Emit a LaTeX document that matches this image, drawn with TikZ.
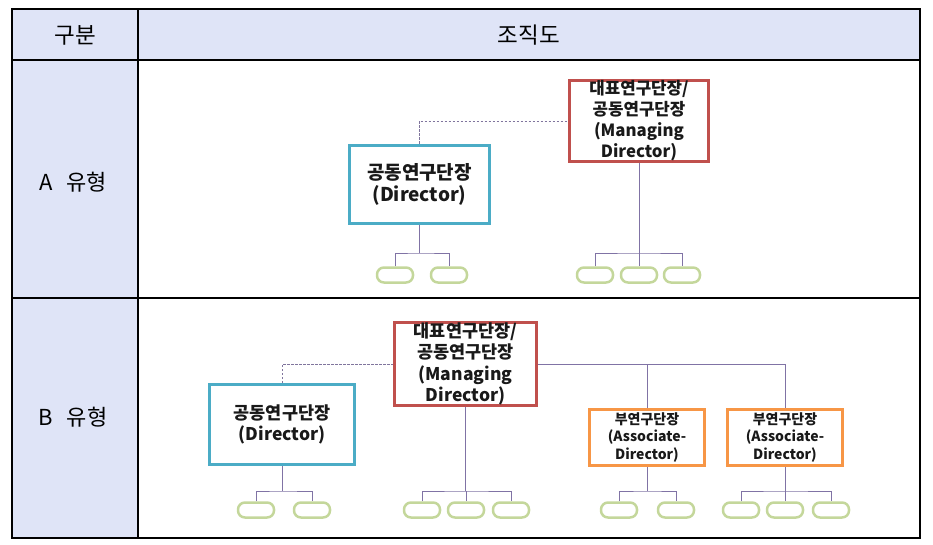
\documentclass[tikz,border=0pt]{standalone}
\usepackage{fontspec}
\setmainfont{Noto Sans CJK KR}
\definecolor{hdr}{RGB}{223,228,247}
\definecolor{redb}{RGB}{192,80,77}
\definecolor{tealb}{RGB}{75,172,198}
\definecolor{orgb}{RGB}{247,150,70}
\definecolor{grn}{RGB}{196,215,155}
\definecolor{conn}{RGB}{128,115,165}
\tikzset{
  tbl/.style={line width=1.1pt, draw=black},
  hd/.style={font=\fontsize{22.5}{24}\selectfont, inner sep=0},
  rl/.style={font=\fontsize{22}{24}\selectfont, inner sep=0},
  bx/.style={draw, line width=3pt, fill=white, align=center, inner sep=0, text=black!90},
  redbox/.style={bx, draw=redb, minimum width=139, minimum height=79},
  tealbox/.style={bx, draw=tealb},
  orgbox/.style={bx, draw=orgb, minimum width=115, minimum height=56,
     font=\bfseries\fontsize{14}{17.5}\selectfont},
  oval/.style={draw=grn, line width=2.5pt, rounded corners=7pt, minimum width=36, minimum height=15, inner sep=0},
  cn/.style={draw=conn, line width=1pt},
  dcn/.style={draw=conn!80!gray, line width=0.9pt, dash pattern=on 2.5pt off 1.5pt}
}
\begin{document}
\begin{tikzpicture}[x=1pt,y=-1pt]
\useasboundingbox (0,0) rectangle (933,545);
% table
\fill[hdr] (12,9) rectangle (920,60);
\fill[hdr] (12,60) rectangle (138,538);
\draw[tbl] (12,9) rectangle (920,538);
\draw[tbl] (138,9) -- (138,538);
\draw[tbl] (12,60) -- (920,60);
\draw[tbl] (12,298) -- (920,298);
\node[hd] (h1) at (75,35) {구분};
\node[hd] (h2) at (529,35) {조직도};
\node[rl] (la) at (73,182) {A\hspace{14pt}유형};
\node[rl] (lb) at (73,417) {B\hspace{14pt}유형};

% ---- A type
\node[redbox, font=\bfseries\fontsize{16.8}{21}\selectfont] (ra) at (639,121) {대표연구단장/\\공동연구단장\\(Managing\\Director)};
\node[tealbox, minimum width=140, minimum height=78, font=\bfseries\fontsize{19}{21.5}\selectfont] (ta) at (419.5,184.5) {공동연구단장\\(Director)};
\draw[dcn] (ta.north) |- (ra.west);

\node[oval] (a1) at (395,275) {};
\node[oval] (a2) at (449,275) {};
\node[oval] (a3) at (595,275) {};
\node[oval] (a4) at (639,275) {};
\node[oval] (a5) at (682,275) {};
\coordinate (barA1) at (419.5,253);
\coordinate (barA2) at (639,253);
\draw[cn] (ta.south) -- (barA1);
\draw[cn] (a1.north) |- (barA1) -| (a2.north);
\draw[cn] (ra.south) -- (barA2);
\draw[cn] (a3.north) |- (barA2) -| (a5.north);
\draw[cn] (barA2) -- (a4.north);

% ---- B type
\node[redbox, minimum width=142, font=\bfseries\fontsize{17.5}{21.5}\selectfont] (rb) at (465.5,364) {대표연구단장/\\공동연구단장\\(Managing\\Director)};
\node[tealbox, minimum width=145, minimum height=80, font=\bfseries\fontsize{17.5}{20.5}\selectfont] (tb) at (282,424.5) {공동연구단장\\(Director)};
\node[orgbox] (ob1) at (647,437.5) {부연구단장\\(Associate-\\Director)};
\node[orgbox] (ob2) at (785,437.5) {부연구단장\\(Associate-\\Director)};
\draw[dcn] (tb.north) |- (rb.west);
\draw[cn] (rb.east) -| (ob2.north);
\draw[cn] (ob1.north) -- (ob1.north |- rb.east);

\node[oval] (b1) at (256,510) {};
\node[oval] (b2) at (312,510) {};
\node[oval] (b3) at (422,510) {};
\node[oval] (b4) at (466,510) {};
\node[oval] (b5) at (511,510) {};
\node[oval] (b6) at (619,510) {};
\node[oval] (b7) at (676,510) {};
\node[oval] (b8) at (741,510) {};
\node[oval] (b9) at (785,510) {};
\node[oval] (b10) at (831,510) {};
\coordinate (barB1) at (282,491);
\coordinate (barB2) at (466,491);
\coordinate (barB3) at (647,491);
\coordinate (barB4) at (785,491);
\draw[cn] (tb.south) -- (barB1);
\draw[cn] (b1.north) |- (barB1) -| (b2.north);
\draw[cn] (rb.south) -- (rb.south |- barB2);
\draw[cn] (b3.north) |- (barB2) -| (b5.north);
\draw[cn] (barB2) -- (b4.north);
\draw[cn] (ob1.south) -- (barB3);
\draw[cn] (b6.north) |- (barB3) -| (b7.north);
\draw[cn] (ob2.south) -- (barB4);
\draw[cn] (b8.north) |- (barB4) -| (b10.north);
\draw[cn] (barB4) -- (b9.north);
\end{tikzpicture}
\end{document}
